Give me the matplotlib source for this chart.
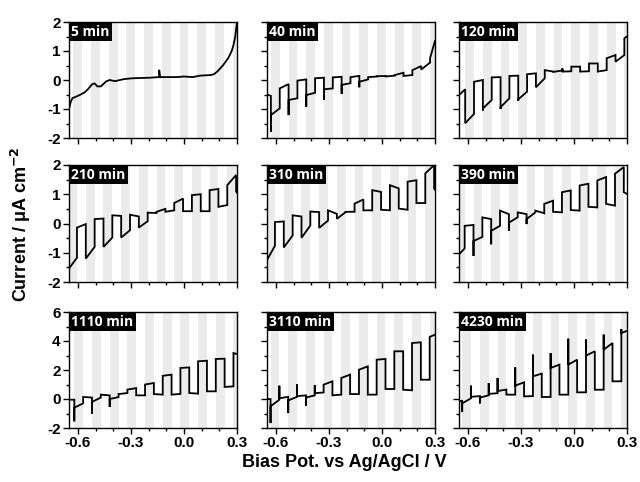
import numpy as np
import matplotlib
matplotlib.use('Agg')
import matplotlib.pyplot as plt
from matplotlib.ticker import MultipleLocator

nan = np.nan

panel_labels = ['5 min', '40 min', '120 min', '210 min', '310 min', '390 min',
                '1110 min', '3110 min', '4230 min']

# 5 min: continuous (no photoresponse) curve
x_5 = [-0.65, -0.64, -0.63, -0.62, -0.59, -0.56, -0.54, -0.52, -0.505, -0.49, -0.47,
       -0.44, -0.42, -0.39, -0.34, -0.29, -0.19, -0.14, -0.14, -0.135, -0.10, -0.04,
       0.0, 0.05, 0.09, 0.15, 0.17, 0.19, 0.22, 0.25, 0.27, 0.28, 0.29, 0.30]
y_5 = [-1.0, -0.75, -0.62, -0.6, -0.52, -0.42, -0.3, -0.15, -0.12, -0.22, -0.22,
       -0.05, 0.0, -0.04, 0.03, 0.06, 0.08, 0.1, 0.35, 0.1, 0.1, 0.1,
       0.12, 0.1, 0.15, 0.17, 0.2, 0.3, 0.5, 0.75, 1.0, 1.2, 1.5, 2.0]

# potential where the first light-on (grey) period starts in each panel
light_start = [-0.625, -0.628, -0.615, -0.655, -0.655, -0.668, -0.62, -0.63, -0.632]
half_period = 0.05

# chopped panels: current at start / end of each chopping segment, and spike at the switch
start_40 = [-0.5, -1.21, -0.29, -0.69, -0.02, -0.52, 0.06, -0.32, 0.09, -0.17,
            0.10, -0.06, 0.10, 0.13, 0.12, 0.17, 0.14, 0.34, 0.36, 0.75]
end_40 = [-0.55, -0.98, -0.14, -0.63, 0.02, -0.44, 0.08, -0.29, 0.11, -0.11,
          0.14, 0.02, 0.12, 0.14, 0.15, 0.25, 0.17, 0.48, 0.60, 1.35]
spike_40 = [nan, -1.78, nan, -1.21, nan, -0.92, nan, -0.69, nan, -0.48,
            nan, -0.25, nan, nan, nan, nan, nan, nan, nan, nan]

start_120 = [-0.52, -1.49, -0.06, -0.98, 0.09, -0.94, 0.14, -0.67, 0.20, -0.25,
             0.34, 0.28, 0.29, 0.46, 0.29, 0.57, 0.29, 0.75, 0.63, 1.44]
end_120 = [-0.32, -1.17, 0.00, -0.69, 0.10, -0.63, 0.15, -0.40, 0.23, 0.06,
           0.29, 0.33, 0.30, 0.46, 0.30, 0.57, 0.34, 0.86, 0.86, 1.50]
spike_120 = [nan, nan, nan, -1.05, nan, -1.0, nan, -0.72, nan, nan,
             nan, nan, 0.40, nan, nan, nan, nan, nan, nan, nan]

start_210 = [-1.54, -0.14, -1.2, 0.15, -0.8, 0.28, -0.48, 0.30, -0.14, 0.37,
             0.40, 0.40, 0.70, 0.42, 0.97, 0.42, 1.14, 0.57, 1.31, 1.09]
end_210 = [-1.17, -0.02, -0.8, 0.17, -0.48, 0.26, -0.23, 0.24, 0.08, 0.36,
           0.50, 0.45, 0.85, 0.42, 1.0, 0.42, 1.18, 0.63, 1.66, 1.05]
spike_210 = [nan] * 20

start_310 = [-1.25, 0.05, -0.82, 0.28, -0.49, 0.41, -0.15, 0.45, 0.16, 0.40,
             0.68, 0.45, 1.14, 0.47, 1.31, 0.51, 1.43, 0.70, 1.71, 1.20]
end_310 = [-0.76, 0.07, -0.41, 0.24, -0.07, 0.39, 0.10, 0.33, 0.39, 0.40,
           0.82, 0.45, 1.08, 0.45, 1.20, 0.47, 1.48, 0.70, 2.0, 1.15]
spike_310 = [nan] * 20

start_390 = [-1.06, -0.08, -0.60, 0.21, -0.25, 0.44, 0.03, 0.38, 0.15, 0.44,
             0.67, 0.40, 1.07, 0.46, 1.30, 0.57, 1.47, 0.67, 1.70, 1.07]
end_390 = [-0.85, -0.05, -0.46, 0.15, -0.08, 0.32, 0.21, 0.32, 0.38, 0.35,
           0.78, 0.38, 1.13, 0.44, 1.36, 0.55, 1.59, 0.61, 1.93, 1.01]
spike_390 = [nan, nan, -1.11, nan, -0.71, nan, -0.25, nan, -0.02, nan,
             nan, nan, nan, nan, nan, nan, nan, nan, nan, nan]

start_1110 = [-0.05, -0.60, 0.14, -0.20, 0.30, 0.00, 0.34, 0.65, 0.25, 1.00,
              0.34, 1.60, 0.30, 2.14, 0.41, 2.60, 0.53, 2.76, 0.83, 3.17]
end_1110 = [-0.05, -0.30, 0.10, 0.10, 0.25, 0.13, 0.41, 0.75, 0.25, 1.10,
            0.30, 1.68, 0.35, 2.18, 0.37, 2.64, 0.53, 2.78, 0.87, 3.10]
spike_1110 = [nan, -1.54, nan, -1.0, nan, -0.55, nan, nan, nan, nan,
              nan, nan, nan, nan, nan, nan, nan, nan, nan, nan]

start_3110 = [0.0, -0.5, 0.05, -0.1, 0.2, 0.1, 0.4, 0.99, 0.25, 1.45,
              0.34, 2.02, 0.30, 2.71, 0.69, 3.29, 0.64, 3.86, 1.33, 4.28]
end_3110 = [0.0, -0.05, 0.15, 0.15, 0.25, 0.25, 0.45, 1.22, 0.30, 1.68,
            0.34, 2.25, 0.30, 2.76, 0.69, 3.29, 0.60, 3.91, 1.33, 4.44]
spike_3110 = [nan, -1.66, 0.92, -0.97, 1.0, -0.45, 0.95, nan, nan, nan,
              nan, nan, nan, nan, nan, nan, nan, nan, nan, nan]

start_4230 = [-0.2, -0.3, 0.15, 0.1, 0.35, 0.55, 0.3, 0.92, 0.18, 1.56,
              0.14, 2.14, 0.3, 2.37, 0.46, 2.99, 0.64, 3.4, 1.22, 4.55]
end_4230 = [-0.1, 0.05, 0.2, 0.25, 0.4, 0.65, 0.3, 1.15, 0.2, 1.75,
            0.14, 2.37, 0.3, 2.71, 0.46, 3.29, 0.64, 3.86, 1.22, 4.7]
spike_4230 = [nan, -0.9, 0.92, -0.3, 1.1, 1.45, nan, 2.18, nan, 3.06,
              nan, 3.17, nan, 4.16, nan, 4.1, nan, 4.44, nan, 4.83]

chopped = {
    1: (start_40, end_40, spike_40),
    2: (start_120, end_120, spike_120),
    3: (start_210, end_210, spike_210),
    4: (start_310, end_310, spike_310),
    5: (start_390, end_390, spike_390),
    6: (start_1110, end_1110, spike_1110),
    7: (start_3110, end_3110, spike_3110),
    8: (start_4230, end_4230, spike_4230),
}

XMIN, XMAX = -0.65, 0.3


def switch_points(ph):
    pts = []
    v = ph
    while v < XMAX - 1e-9:
        if v > XMIN + 1e-9:
            pts.append(v)
        v += half_period
    return pts


def build_curve(ph, st, en, sp):
    bounds = [XMIN] + switch_points(ph) + [XMAX]
    xs, ys = [], []
    for i in range(len(bounds) - 1):
        a, b = bounds[i], bounds[i + 1]
        if not np.isnan(sp[i]):
            xs.append(a)
            ys.append(sp[i])
        xs += [a, b]
        ys += [st[i], en[i]]
    return xs, ys


fig = plt.figure(figsize=(6.4, 4.82), dpi=100)

lefts = [69, 267, 459]
width = 168
tops = [22, 165, 312]
bottoms = [138, 282, 428]

tick_font = dict(family='Liberation Sans', weight='bold', size=11)

for idx in range(9):
    r, c = divmod(idx, 3)
    ax = fig.add_axes([lefts[c] / 640, 1 - bottoms[r] / 482,
                       width / 640, (bottoms[r] - tops[r]) / 482])
    ph = light_start[idx]
    k = ph - 0.1
    while k < XMAX:
        ax.axvspan(k, k + half_period, color='#ebebeb', lw=0, zorder=0)
        k += 0.1
    if idx == 0:
        xs, ys = x_5, y_5
    else:
        st, en, sp = chopped[idx]
        xs, ys = build_curve(ph, st, en, sp)
    ax.plot(xs, ys, color='black', lw=1.3, zorder=3, solid_joinstyle='miter')
    ax.set_xlim(XMIN, XMAX)
    if r < 2:
        ax.set_ylim(-2, 2)
        ax.yaxis.set_major_locator(MultipleLocator(1))
        ax.yaxis.set_minor_locator(MultipleLocator(0.5))
    else:
        ax.set_ylim(-2, 6)
        ax.yaxis.set_major_locator(MultipleLocator(2))
        ax.yaxis.set_minor_locator(MultipleLocator(1))
    ax.set_xticks([-0.6, -0.3, 0.0, 0.3])
    ax.xaxis.set_minor_locator(MultipleLocator(0.1))
    ax.tick_params(which='major', direction='out', length=4, width=1.0, pad=2)
    ax.tick_params(which='minor', direction='out', length=2.5, width=1.0)
    for s in ax.spines.values():
        s.set_linewidth(1.0)
    if c == 0:
        ax.set_yticklabels([f'{int(v)}' for v in ax.get_yticks()], fontdict=tick_font)
    else:
        ax.set_yticklabels([])
    if r == 2:
        ax.set_xticklabels(['-0.6', '-0.3', '0.0', '0.3'], fontdict=tick_font)
    else:
        ax.set_xticklabels([])
    ax.text(0.012, 0.975, panel_labels[idx], transform=ax.transAxes, ha='left', va='top',
            color='white', fontsize=10, fontweight='bold', family='Open Sans', zorder=5,
            bbox=dict(boxstyle='square,pad=0.18', fc='black', ec='none'))

fig.text(0.032, 0.535, r'Current / μA cm$^{\mathbf{-2}}$', rotation=90, ha='center', va='center',
         family='Liberation Sans', weight='bold', fontsize=13)
fig.text(0.538, 0.04, 'Bias Pot. vs Ag/AgCl / V', ha='center', va='center',
         family='Liberation Sans', weight='bold', fontsize=13)

fig.savefig('out.png', dpi=100)
